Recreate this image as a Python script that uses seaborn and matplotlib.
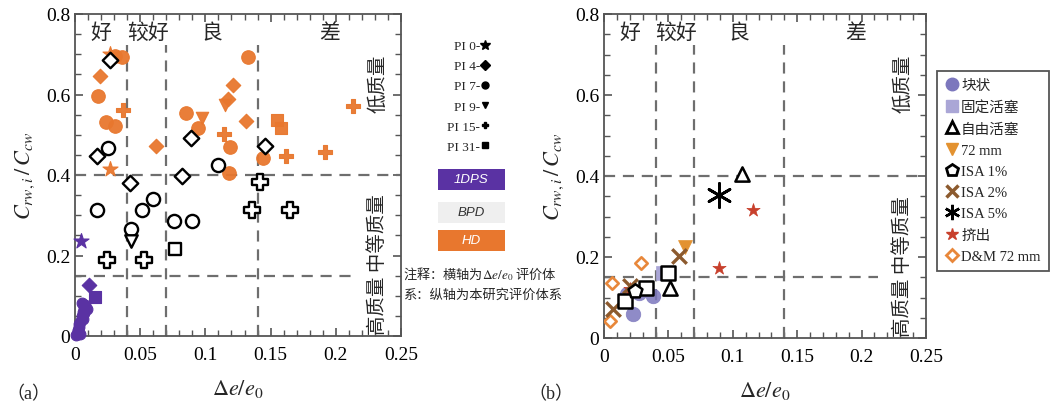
import matplotlib
matplotlib.use("Agg")
import matplotlib.pyplot as plt
import seaborn as sns
import pandas as pd
from matplotlib.lines import Line2D
from matplotlib.patches import Rectangle
from matplotlib.ticker import MultipleLocator

# ---------------- data: panel (a) ----------------
pi_levels = ["PI 0", "PI 4", "PI 7", "PI 9", "PI 15", "PI 31"]

hd_x = [0.027, 0.027, 0.019, 0.062, 0.121, 0.117, 0.131, 0.031, 0.036, 0.018, 0.024, 0.031,
        0.085, 0.094, 0.119, 0.118, 0.133, 0.144, 0.0975, 0.115, 0.037, 0.114, 0.1615,
        0.1915, 0.213, 0.155, 0.158]
hd_y = [0.700, 0.415, 0.647, 0.473, 0.624, 0.588, 0.533, 0.695, 0.692, 0.597, 0.532, 0.522,
        0.554, 0.518, 0.469, 0.405, 0.694, 0.441, 0.541, 0.575, 0.562, 0.502, 0.446,
        0.458, 0.572, 0.537, 0.516]
hd_pi = ["PI 0", "PI 0", "PI 4", "PI 4", "PI 4", "PI 4", "PI 4", "PI 7", "PI 7", "PI 7", "PI 7", "PI 7",
         "PI 7", "PI 7", "PI 7", "PI 7", "PI 7", "PI 7", "PI 9", "PI 9", "PI 15", "PI 15", "PI 15",
         "PI 15", "PI 15", "PI 31", "PI 31"]

bpd_x = [0.027, 0.017, 0.042, 0.082, 0.089, 0.1454, 0.025, 0.1097, 0.0167, 0.051, 0.060, 0.0756,
         0.0897, 0.0428, 0.0428, 0.0764, 0.1415, 0.0244, 0.0526, 0.136, 0.165]
bpd_y = [0.685, 0.446, 0.379, 0.398, 0.493, 0.473, 0.466, 0.425, 0.313, 0.313, 0.340, 0.285,
         0.285, 0.265, 0.235, 0.216, 0.383, 0.189, 0.189, 0.314, 0.314]
bpd_pi = ["PI 4", "PI 4", "PI 4", "PI 4", "PI 4", "PI 4", "PI 7", "PI 7", "PI 7", "PI 7", "PI 7", "PI 7",
          "PI 7", "PI 7", "PI 9", "PI 31", "PI 15", "PI 15", "PI 15", "PI 15", "PI 15"]

dps_x = [0.0044, 0.011, 0.0156, 0.001, 0.002, 0.003, 0.004, 0.005, 0.006, 0.007, 0.008, 0.006,
         0.004, 0.003, 0.007, 0.009, 0.005, 0.002]
dps_y = [0.237, 0.127, 0.096, 0.002, 0.012, 0.022, 0.035, 0.050, 0.060, 0.070, 0.076, 0.042,
         0.006, 0.030, 0.056, 0.066, 0.082, 0.016]
dps_pi = ["PI 0", "PI 4", "PI 31"] + ["PI 7"] * 15

# ---------------- data: panel (b) ----------------
b_types = ["块状", "固定活塞", "自由活塞", "72 mm", "ISA 1%", "ISA 2%", "ISA 5%", "挤出", "D&M 72 mm"]
blk_x, blk_y = [0.0175, 0.038, 0.0226, 0.027], [0.109, 0.104, 0.059, 0.112]
fix_x, fix_y = [0.046], [0.160]
free_x, free_y = [0.051, 0.107], [0.123, 0.405]
mm72_x, mm72_y = [0.0625], [0.224]
isa1_x, isa1_y = [0.024], [0.117]
isa2_x, isa2_y = [0.0067, 0.020, 0.058], [0.072, 0.129, 0.203]
isa5_x, isa5_y = [0.089], [0.353]
ext_x, ext_y = [0.020, 0.089, 0.116], [0.121, 0.173, 0.317]
dm_x, dm_y = [0.0046, 0.006, 0.029], [0.043, 0.135, 0.185]
sq_x, sq_y = [0.016, 0.0324, 0.0496], [0.091, 0.1225, 0.160]   # open squares

grade_bounds = [0.04, 0.07, 0.14]
quality_bounds = [0.15, 0.4]
grade_labels = ["好", "较好", "良", "差"]
grade_label_x = [0.020, 0.056, 0.105, 0.195]
x_ticks = [0, 0.05, 0.1, 0.15, 0.2, 0.25]
x_ticklabels = ["0", "0.05", "0.1", "0.15", "0.2", "0.25"]
y_ticks = [0, 0.2, 0.4, 0.6, 0.8]
y_ticklabels = ["0", "0.2", "0.4", "0.6", "0.8"]

# ---------------- styling ----------------
sns.set_style("ticks")
plt.rcParams["font.family"] = ["Liberation Serif", "Noto Sans CJK SC"]
plt.rcParams["mathtext.fontset"] = "stix"
plt.rcParams["axes.unicode_minus"] = False

PURPLE = "#5a32a3"
ORANGE = "#e8772e"
pi_markers = {"PI 0": "*", "PI 4": "D", "PI 7": "o", "PI 9": "v", "PI 15": "P", "PI 31": "s"}
pi_sizes_f = {"PI 0": 130, "PI 4": 55, "PI 7": 95, "PI 9": 80, "PI 15": 110, "PI 31": 75}
pi_sizes_o = {"PI 0": 130, "PI 4": 62, "PI 7": 90, "PI 9": 80, "PI 15": 120, "PI 31": 75}

fig = plt.figure(figsize=(10.6, 4.1), dpi=100)
axa = fig.add_axes([75 / 1060, 73 / 410, 326 / 1060, 322 / 410])
axb = fig.add_axes([604 / 1060, 71 / 410, 322 / 1060, 324 / 410])

DASH = (0, (5, 3.5))
LINEC = "#6e6e6e"


def decorate(ax):
    ax.set_xlim(0, 0.25)
    ax.set_ylim(0, 0.8)
    ax.set_xticks(x_ticks)
    ax.set_xticklabels(x_ticklabels)
    ax.set_yticks(y_ticks)
    ax.set_yticklabels(y_ticklabels)
    ax.xaxis.set_minor_locator(MultipleLocator(0.01))
    ax.yaxis.set_minor_locator(MultipleLocator(0.05))
    ax.tick_params(which="both", direction="in", top=True, right=True, color="#555555",
                   labelsize=14, labelcolor="black")
    ax.tick_params(which="major", length=6, width=1.2)
    ax.tick_params(which="minor", length=4, width=1.0)
    ax.tick_params(axis="x", which="major", pad=7)
    for s in ax.spines.values():
        s.set_color("#555555")
        s.set_linewidth(1.3)
    for gx in grade_bounds:
        ax.axvline(gx, ymin=0, ymax=0.905, ls=DASH, color=LINEC, lw=1.6, zorder=1)
    ax.axhline(quality_bounds[1], xmin=0, xmax=1, ls=DASH, color=LINEC, lw=1.6, zorder=1)
    ax.axhline(quality_bounds[0], xmin=0, xmax=0.85, ls=DASH, color=LINEC, lw=1.6, zorder=1)
    for lab, lx in zip(grade_labels, grade_label_x):
        ax.text(lx, 0.755, lab, ha="center", va="center", fontsize=15,
                family=["Noto Sans CJK SC"], fontweight="light")
    ax.text(0.232, 0.63, "低质量", rotation=90, ha="center", va="center", fontsize=14,
            family=["Noto Sans CJK SC"], fontweight="light")
    ax.text(0.232, 0.006, "高质量 中等质量", rotation=90, ha="center", va="bottom", fontsize=14,
            family=["Noto Sans CJK SC"], fontweight="light")
    ax.set_xlabel(r"$\Delta e/e_0$", fontsize=16, labelpad=10)
    ax.set_ylabel(r"$C_{rw,i}\,/\,C_{cw}$", fontsize=16, labelpad=6)


decorate(axa)
decorate(axb)

# ---------------- panel (a) points ----------------
df_hd = pd.DataFrame({"x": hd_x, "y": hd_y, "pi": hd_pi})
df_bpd = pd.DataFrame({"x": bpd_x, "y": bpd_y, "pi": bpd_pi})
df_dps = pd.DataFrame({"x": dps_x, "y": dps_y, "pi": dps_pi})

for lev in pi_levels:
    sub = df_hd[df_hd.pi == lev]
    if len(sub):
        sns.scatterplot(data=sub, x="x", y="y", marker=pi_markers[lev], s=pi_sizes_f[lev],
                        color=ORANGE, edgecolor=ORANGE, linewidth=0.8, alpha=0.95,
                        ax=axa, legend=False, zorder=3)
for lev in pi_levels:
    sub = df_dps[df_dps.pi == lev]
    if len(sub):
        sns.scatterplot(data=sub, x="x", y="y", marker=pi_markers[lev],
                        s=(60 if lev == "PI 7" else pi_sizes_f[lev]),
                        color=PURPLE, edgecolor=PURPLE, linewidth=0.8,
                        ax=axa, legend=False, zorder=3, clip_on=False)
for lev in pi_levels:
    sub = df_bpd[df_bpd.pi == lev]
    if len(sub):
        sns.scatterplot(data=sub, x="x", y="y", marker=pi_markers[lev], s=pi_sizes_o[lev],
                        facecolor="white", edgecolor="black", linewidth=1.7,
                        ax=axa, legend=False, zorder=4)

# panel (a) legend
pi_handles = [Line2D([], [], ls="", marker=pi_markers[l], color="black",
                     markersize=(7 if l == "PI 0" else 5)) for l in pi_levels]
fig.legend(pi_handles, [l + "-" for l in pi_levels], loc="upper right",
           bbox_to_anchor=(498 / 1060, 1 - 33 / 410), markerfirst=False, frameon=False,
           handlelength=0.7, handletextpad=0.05, labelspacing=0.6, fontsize=9.5,
           borderpad=0.1)

box_specs = [("1DPS", PURPLE, "white", 170), ("BPD", "#efefef", "#333333", 203), ("HD", ORANGE, "white", 231)]
for txt, fc, tc, ytop in box_specs:
    fig.add_artist(Rectangle((438 / 1060, 1 - (ytop + 21) / 410), 67 / 1060, 21 / 410,
                             transform=fig.transFigure, facecolor=fc, edgecolor="none"))
    fig.text(471.5 / 1060, 1 - (ytop + 10.5) / 410, txt, ha="center", va="center",
             color=tc, fontsize=9.5, style="italic", family=["Liberation Sans"])

fig.text(403 / 1060, 1 - 274 / 410, r"注释：横轴为$\Delta e/e_0$ 评价体", ha="left", va="center",
         fontsize=9.5, family=["Noto Sans CJK SC"], fontweight="light")
fig.text(403 / 1060, 1 - 295 / 410, "系：纵轴为本研究评价体系", ha="left", va="center",
         fontsize=9.5, family=["Noto Sans CJK SC"], fontweight="light")

# ---------------- panel (b) points ----------------
BLK = "#7c77bd"
FIX = "#aaa6d6"
M72 = "#e39230"
ISA2 = "#8c5a2e"
EXT = "#c8402c"
DMC = "#e8873a"

sns.scatterplot(x=blk_x, y=blk_y, marker="o", s=110, color=BLK, edgecolor=BLK, alpha=0.85,
                linewidth=0.5, ax=axb, legend=False, zorder=2)
sns.scatterplot(x=fix_x, y=fix_y, marker="s", s=100, color=FIX, edgecolor=FIX, linewidth=0.5,
                ax=axb, legend=False, zorder=2)
sns.scatterplot(x=ext_x, y=ext_y, marker="*", s=100, color=EXT, edgecolor=EXT, linewidth=0.5,
                ax=axb, legend=False, zorder=3)
sns.scatterplot(x=mm72_x, y=mm72_y, marker="v", s=100, color=M72, edgecolor=M72, linewidth=0.5,
                ax=axb, legend=False, zorder=3)
sns.scatterplot(x=dm_x, y=dm_y, marker="D", s=40, facecolor="white", edgecolor=DMC, linewidth=1.9,
                ax=axb, legend=False, zorder=3)
sns.scatterplot(x=isa2_x, y=isa2_y, marker="x", s=110, color=ISA2, linewidth=2.4,
                ax=axb, legend=False, zorder=4)
sns.scatterplot(x=sq_x, y=sq_y, marker="s", s=90, facecolor="white", edgecolor="black",
                linewidth=1.8, ax=axb, legend=False, zorder=5)
sns.scatterplot(x=free_x, y=free_y, marker="^", s=105, facecolor="white", edgecolor="black",
                linewidth=1.8, ax=axb, legend=False, zorder=5)
sns.scatterplot(x=isa1_x, y=isa1_y, marker="p", s=110, facecolor="white", edgecolor="black",
                linewidth=1.8, ax=axb, legend=False, zorder=5)
sns.scatterplot(x=isa5_x, y=isa5_y, marker=(6, 2, 0), s=300, color="black", linewidth=2.0,
                ax=axb, legend=False, zorder=5)

b_handles = [
    Line2D([], [], ls="", marker="o", color=BLK, markersize=9),
    Line2D([], [], ls="", marker="s", color=FIX, markersize=9),
    Line2D([], [], ls="", marker="^", mfc="white", mec="black", mew=2, markersize=9),
    Line2D([], [], ls="", marker="v", color=M72, markersize=9),
    Line2D([], [], ls="", marker="p", mfc="white", mec="black", mew=2, markersize=9),
    Line2D([], [], ls="", marker="x", color=ISA2, mew=2.5, markersize=9),
    Line2D([], [], ls="", marker=(6, 2, 0), color="black", mew=1.8, markersize=11),
    Line2D([], [], ls="", marker="*", color=EXT, markersize=9),
    Line2D([], [], ls="", marker="D", mfc="white", mec=DMC, mew=2, markersize=6),
]
leg = fig.legend(b_handles, b_types, loc="upper left", bbox_to_anchor=(937 / 1060, 1 - 72 / 410),
                 frameon=True, fancybox=False, edgecolor="#555555", framealpha=1,
                 handlelength=0.9, handletextpad=0.2, labelspacing=0.55, fontsize=10.5,
                 borderpad=0.55, borderaxespad=0)
leg.get_frame().set_linewidth(1.3)

fig.text(6 / 1060, 1 - 395 / 410, "（a）", ha="left", va="center", fontsize=13)
fig.text(528 / 1060, 1 - 395 / 410, "（b）", ha="left", va="center", fontsize=13)

fig.savefig("out.png", dpi=100)
